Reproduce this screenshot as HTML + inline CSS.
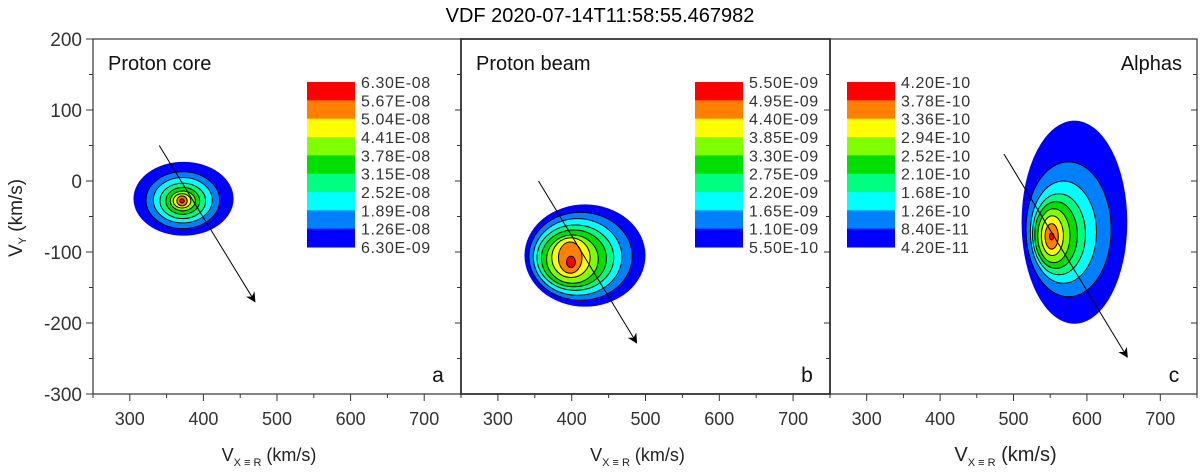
<!DOCTYPE html>
<html><head><meta charset="utf-8"><style>
body{margin:0;background:#fff;}
svg{display:block;font-family:"Liberation Sans",sans-serif;}
</style></head><body>
<svg id="chart" width="1200" height="474" viewBox="0 0 1200 474">
<text x="600" y="22" text-anchor="middle" font-size="20">VDF 2020-07-14T11:58:55.467982</text>
<text transform="translate(22,218) rotate(-90)" text-anchor="middle" font-size="19" fill="#222">V<tspan font-size="11" dy="4">Y</tspan><tspan dy="-4"> (km/s)</tspan></text>
</svg>
<script>
const xTicks=[300,400,500,600,700];
const yTicks=[200,100,0,-100,-200,-300];
const panelNames=["Proton core","Proton beam","Alphas"];
const panelLetters=["a","b","c"];
const levelColors=["#0000ff","#0080ff","#00ffff","#00ff80","#00e000","#80ff00","#ffff00","#ff8000","#ff0000"];
const legendA=["6.30E-08","5.67E-08","5.04E-08","4.41E-08","3.78E-08","3.15E-08","2.52E-08","1.89E-08","1.26E-08","6.30E-09"];
const legendB=["5.50E-09","4.95E-09","4.40E-09","3.85E-09","3.30E-09","2.75E-09","2.20E-09","1.65E-09","1.10E-09","5.50E-10"];
const legendC=["4.20E-10","3.78E-10","3.36E-10","2.94E-10","2.52E-10","2.10E-10","1.68E-10","1.26E-10","8.40E-11","4.20E-11"];
// contour level ellipses (data units), outermost -> innermost
const cxA=[373,372,372,372,372,372,371,371,371], cyA=[-25,-27,-27,-28,-28,-28,-28,-28,-28], rxA=[68,50,40,31,23,17,12,7,3], ryA=[52,40,32,25,19,14,10,7,3];
const cxB=[418,412,408,405,403,401,399,398,399], cyB=[-105,-106,-107,-108,-109,-110,-108,-108,-114], rxB=[82,70,60,52,44,35,26,16,6], ryB=[72,62,54,46,40,34,28,22,8];
const cxC=[583,575,568,562,558,555,553,552,552], cyC=[-58,-68,-72,-75,-76,-77,-77,-78,-78], rxC=[72,58,45,36,29,22,15,9,3], ryC=[143,95,72,57,47,38,28,18,5];
const arrowA=[340,50,470,-170], arrowB=[355,0,488,-228], arrowC=[487,38,655,-248];

const svg=document.getElementById('chart');
const NS="http://www.w3.org/2000/svg";
function mk(t,a,parent){const e=document.createElementNS(NS,t);for(const k in a)e.setAttribute(k,a[k]);(parent||svg).appendChild(e);return e;}
const panels=[{x0:93,x1:461,leg:legendA,lx:307,cx:cxA,cy:cyA,rx:rxA,ry:ryA,ar:arrowA,nameX:108,nameAnchor:"start"},
{x0:461,x1:830,leg:legendB,lx:695,cx:cxB,cy:cyB,rx:rxB,ry:ryB,ar:arrowB,nameX:476,nameAnchor:"start"},
{x0:830,x1:1197,leg:legendC,lx:847,cx:cxC,cy:cyC,rx:rxC,ry:ryC,ar:arrowC,nameX:1182,nameAnchor:"end"}];
const Y0=39,Y1=394;
const defs=mk('defs',{});
const mrk=mk('marker',{id:'ah',markerWidth:10,markerHeight:10,refX:9,refY:5,orient:'auto',markerUnits:'userSpaceOnUse'},defs);
mk('path',{d:'M0,0 L10,5 L0,10 L3,5 Z',fill:'#000'},mrk);
function yS(v){return Y0+(200-v)/500*(Y1-Y0);}
panels.forEach((p,i)=>{
  const xS=v=>p.x0+(v-250)/500*(p.x1-p.x0);
  const g=mk('g',{});
  
  
  for(let k=0;k<levelColors.length;k++){
    const e=mk('ellipse',{cx:xS(p.cx[k]),cy:yS(p.cy[k]),rx:p.rx[k]/500*(p.x1-p.x0),ry:p.ry[k]/500*(Y1-Y0),fill:levelColors[k],stroke:k>0?'#000':'none','stroke-width':1},g);
    
    
  }
  const a=mk('line',{x1:xS(p.ar[0]),y1:yS(p.ar[1]),x2:xS(p.ar[2]),y2:yS(p.ar[3]),stroke:'#000','stroke-width':1,'marker-end':'url(#ah)'},g);
  
  
  const fr=mk('rect',{x:p.x0,y:Y0,width:p.x1-p.x0,height:Y1-Y0,fill:'none',stroke:'#333','stroke-width':i==1?1.8:1.2},g);
  
  
  for(let v=250;v<=750;v+=50){
    const x=xS(v), major=v%100==0;
    mk('line',{x1:x,y1:Y1,x2:x,y2:Y1+(major?7:4),stroke:'#333'},g);
  }
  xTicks.forEach(v=>{
    const t=mk('text',{x:xS(v),y:Y1+31,'text-anchor':'middle','font-size':18,fill:'#333'},g);
    t.textContent=v;
    
    
  });
  for(let v=-300;v<=200;v+=50){
    const y=yS(v), major=v%100==0;
    mk('line',{x1:p.x1,y1:y,x2:p.x1-(major?6:4),y2:y,stroke:'#333'},g);
  }
  const xt=mk('text',{x:(p.x0+p.x1)/2-8,y:461,'text-anchor':'middle','font-size':i==2?20:18,fill:'#222'},g);
  xt.innerHTML='V<tspan font-size="11" dy="5">X ≡ R</tspan><tspan dy="-5"> (km/s)</tspan>';
  
  
  const nm=mk('text',{x:p.nameX,y:70,'text-anchor':p.nameAnchor,'font-size':20,fill:'#111'},g);
  nm.textContent=panelNames[i];
  
  
  const lt=mk('text',{x:p.x1-23,y:382,'text-anchor':'middle','font-size':21,fill:'#111'},g);
  lt.textContent=panelLetters[i];
  
  
  const lg=mk('g',{},g);
  
  
  const bh=(247-82)/9;
  for(let k=0;k<9;k++){
    mk('rect',{x:p.lx,y:82+k*bh,width:48,height:bh+0.5,fill:levelColors[8-k]},lg);
  }
  p.leg.forEach((s,k)=>{
    const t=mk('text',{x:p.lx+54,y:82+k*bh+6,'font-size':16,'letter-spacing':0.6,fill:'#333'},lg);
    t.textContent=s;
    
    
  });
});
for(let v=-300;v<=200;v+=50){
  const y=yS(v),major=v%100==0;
  mk('line',{x1:93,y1:y,x2:93-(major?7:4),y2:y,stroke:'#333'});
}
yTicks.forEach(v=>{
  const t=mk('text',{x:82,y:yS(v)+7,'text-anchor':'end','font-size':19,fill:'#333'});
  t.textContent=v;
  
  
});
</script>
</body></html>
